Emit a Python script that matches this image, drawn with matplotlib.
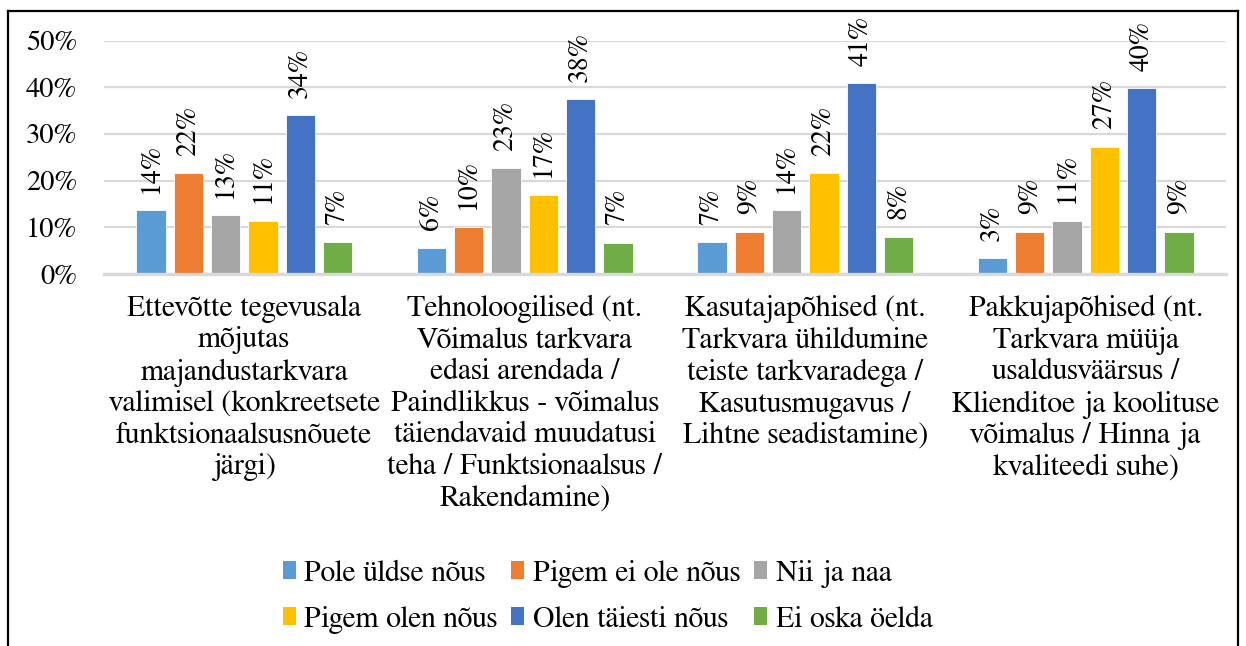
import matplotlib
matplotlib.use("Agg")
import matplotlib.pyplot as plt
import numpy as np
from matplotlib.patches import Patch
from matplotlib.lines import Line2D

categories = [
    "Ettevõtte tegevusala\nmõjutas\nmajandustarkvara\nvalimisel (konkreetsete\nfunktsionaalsusnõuete\njärgi)",
    "Tehnoloogilised (nt.\nVõimalus tarkvara\nedasi arendada /\nPaindlikkus - võimalus\ntäiendavaid muudatusi\nteha / Funktsionaalsus /\nRakendamine)",
    "Kasutajapõhised (nt.\nTarkvara ühildumine\nteiste tarkvaradega /\nKasutusmugavus /\nLihtne seadistamine)",
    "Pakkujapõhised (nt.\nTarkvara müüja\nusaldusväärsus /\nKlienditoe ja koolituse\nvõimalus / Hinna ja\nkvaliteedi suhe)",
]
series_names = ["Pole üldse nõus", "Pigem ei ole nõus", "Nii ja naa",
                "Pigem olen nõus", "Olen täiesti nõus", "Ei oska öelda"]
pole_uldse = [0.136, 0.056, 0.068, 0.034]
pigem_ei = [0.216, 0.101, 0.091, 0.091]
nii_ja_naa = [0.126, 0.226, 0.136, 0.114]
pigem_olen = [0.114, 0.170, 0.216, 0.273]
taiesti = [0.340, 0.375, 0.409, 0.398]
ei_oska = [0.068, 0.067, 0.080, 0.091]
series_values = [pole_uldse, pigem_ei, nii_ja_naa, pigem_olen, taiesti, ei_oska]
colors = ["#5B9BD5", "#ED7D31", "#A5A5A5", "#FFC000", "#4472C4", "#70AD47"]
yticks = [0, 0.1, 0.2, 0.3, 0.4, 0.5]
ytick_labels = ["0%", "10%", "20%", "30%", "40%", "50%"]

plt.rcParams['font.family'] = ['FreeSerif', 'DejaVu Serif']

W, H = 1246, 646
fig = plt.figure(figsize=(W / 100, H / 100), dpi=100)
ax = fig.add_axes([104 / W, 1 - 274 / H, (1226 - 104) / W, (274 - 40.5) / H])

x = np.arange(len(categories))
pitch = 0.133
width = 0.1045
for i, (vals, col) in enumerate(zip(series_values, colors)):
    pos = x + (i - 2.5) * pitch
    bars = ax.bar(pos, vals, width=width, color=col, zorder=3, label=series_names[i],
                  edgecolor='white', linewidth=0.6)
    for b, v in zip(bars, vals):
        ax.annotate(f"{round(v * 100):.0f}%", (b.get_x() + b.get_width() / 2, v),
                    xytext=(0, 12.5), textcoords='offset points', rotation=90,
                    ha='center', va='bottom', fontsize=20, annotation_clip=False)

ax.set_xlim(-0.5, len(categories) - 0.5)
ax.set_ylim(0, 0.5)
ax.set_yticks(yticks)
ax.set_yticklabels(ytick_labels, fontsize=20.5)
ax.set_xticks(x)
ax.set_xticklabels(categories, fontsize=21.5, linespacing=1.18)
ax.tick_params(axis='both', length=0)
ax.tick_params(axis='y', pad=19.5)
ax.tick_params(axis='x', pad=15)
ax.grid(axis='y', color='#D9D9D9', linewidth=1.6, zorder=0)
for s in ['top', 'right', 'left']:
    ax.spines[s].set_visible(False)
ax.spines['bottom'].set_color('#D9D9D9')
ax.spines['bottom'].set_linewidth(2.4)
ax.spines['bottom'].set_zorder(4)

handles = [Patch(facecolor=c, edgecolor='none') for c in colors]
order = [0, 3, 1, 4, 2, 5]
leg = fig.legend([handles[k] for k in order], [series_names[k] for k in order],
                 ncol=3, loc='upper left',
                 bbox_to_anchor=(283 / W, 1 - 560 / H), frameon=False,
                 fontsize=21.5, handlelength=0.42, handleheight=0.55,
                 handletextpad=0.3, columnspacing=0.45, labelspacing=0.6,
                 borderaxespad=0, borderpad=0)

# outer frame
fig.add_artist(Line2D([8 / W, 8 / W], [0, 1 - 11 / H], color='black', lw=1.6,
                      transform=fig.transFigure))
fig.add_artist(Line2D([1238 / W, 1238 / W], [0, 1 - 11 / H], color='black', lw=1.6,
                      transform=fig.transFigure))
fig.add_artist(Line2D([8 / W, 1238 / W], [1 - 11 / H, 1 - 11 / H], color='black', lw=1.6,
                      transform=fig.transFigure))

fig.savefig("out.png", dpi=100)
